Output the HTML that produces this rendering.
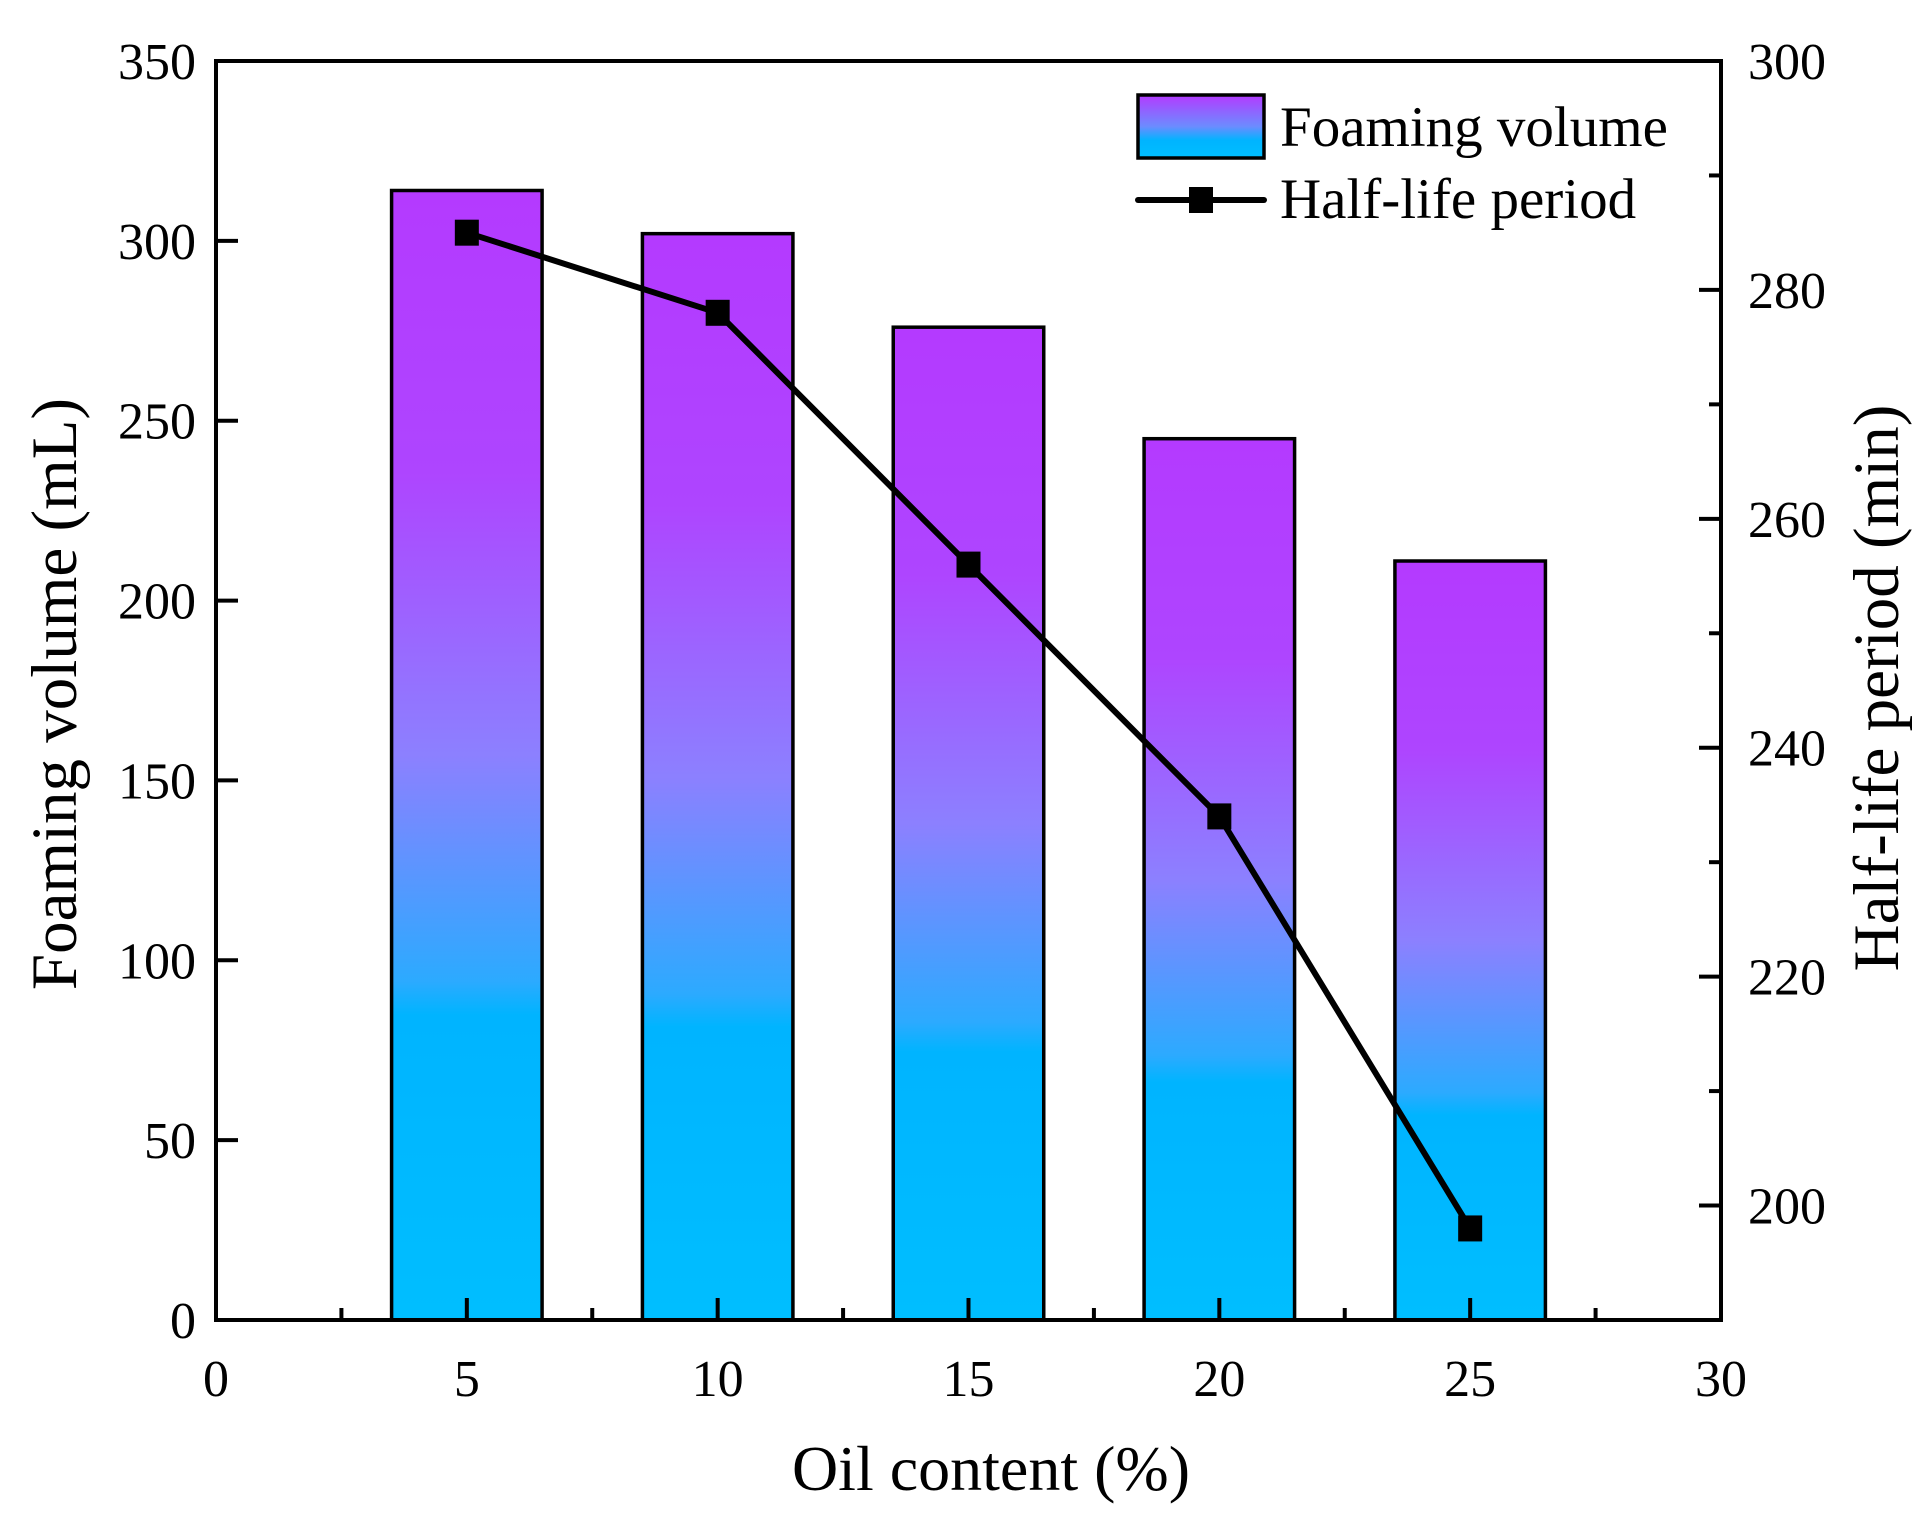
<!DOCTYPE html>
<html><head><meta charset="utf-8"><style>
html,body{margin:0;padding:0;background:#fff;}
svg{display:block;font-family:"Liberation Serif",serif;}
</style></head><body>
<svg id="chart" width="1932" height="1528" viewBox="0 0 1932 1528">
<defs>
<linearGradient id="barGrad" x1="0" y1="0" x2="0" y2="1">
<stop offset="0" stop-color="#B43AFF"/>
<stop offset="0.25" stop-color="#AE45FF"/>
<stop offset="0.5" stop-color="#8C80FF"/>
<stop offset="0.7" stop-color="#2CAAFF"/>
<stop offset="0.73" stop-color="#00B4FF"/>
<stop offset="1" stop-color="#00BEFF"/>
</linearGradient>
<linearGradient id="legGrad" x1="0" y1="0" x2="0" y2="1">
<stop offset="0" stop-color="#B43AFF"/>
<stop offset="0.5" stop-color="#6C8CFF"/>
<stop offset="0.72" stop-color="#00B4FF"/>
<stop offset="1" stop-color="#00BEFF"/>
</linearGradient>
</defs>
<g id="bars"></g>
<g id="line"></g>
<g id="axes"></g>
<g>
<rect x="1138" y="95" width="126" height="63" fill="url(#legGrad)" stroke="#000" stroke-width="3.5"/>
<text x="1280" y="146" font-size="57">Foaming volume</text>
<line x1="1138" y1="200" x2="1264" y2="200" stroke="#000" stroke-width="6" stroke-linecap="round"/>
<rect x="1189" y="187" width="24" height="26" fill="#000"/>
<text x="1280" y="218" font-size="57">Half-life period</text>
</g>
<text x="991" y="1490" font-size="64" text-anchor="middle">Oil content (%)</text>
<text transform="translate(76,694) rotate(-90)" font-size="65" text-anchor="middle">Foaming volume (mL)</text>
<text transform="translate(1898,688) rotate(-90)" font-size="65" text-anchor="middle">Half-life period (min)</text>
</svg>
<script>
const categories = [5, 10, 15, 20, 25];
const foamingVolume = [314, 302, 276, 245, 211];
const halfLife = [285, 278, 256, 234, 198];
const xTicks = [0, 5, 10, 15, 20, 25, 30];
const yLeftTicks = [0, 50, 100, 150, 200, 250, 300, 350];
const yRightTicks = [200, 220, 240, 260, 280, 300];

const L = 216, R = 1721, T = 61, B = 1320;
const NS = "http://www.w3.org/2000/svg";
const xS = v => L + (v - 0) / 30 * (R - L);
const yL = v => B - v / 350 * (B - T);
const yR = v => B - (v - 190) / 110 * (B - T);
function mk(tag, attrs, parent) {
  const e = document.createElementNS(NS, tag);
  for (const k in attrs) e.setAttribute(k, attrs[k]);
  parent.appendChild(e);
  return e;
}
const gBars = document.getElementById('bars');
categories.forEach((c, i) => {
  const x0 = xS(c - 1.5), x1 = xS(c + 1.5), y = yL(foamingVolume[i]);
  const r = mk('rect', {x: x0, y: y, width: x1 - x0, height: B - y, fill: 'url(#barGrad)', stroke: '#000', 'stroke-width': 3.5}, gBars);
  
  
});
const gLine = document.getElementById('line');
const pl = mk('polyline', {points: categories.map((c, i) => xS(c) + ',' + yR(halfLife[i])).join(' '), fill: 'none', stroke: '#000', 'stroke-width': 6, 'stroke-linejoin': 'round'}, gLine);


categories.forEach((c, i) => {
  const m = mk('rect', {x: xS(c) - 12, y: yR(halfLife[i]) - 13, width: 24, height: 26, fill: '#000'}, gLine);
  
  
});
const gA = document.getElementById('axes');
const frame = mk('rect', {x: L, y: T, width: R - L, height: B - T, fill: 'none', stroke: '#000', 'stroke-width': 4}, gA);


xTicks.forEach(v => {
  mk('line', {x1: xS(v), y1: B, x2: xS(v), y2: B - 22, stroke: '#000', 'stroke-width': 4}, gA);
  const t = mk('text', {x: xS(v), y: 1396, 'font-size': 52, 'text-anchor': 'middle'}, gA);
  t.textContent = v;
  
  
});
for (let v = 2.5; v < 30; v += 5) mk('line', {x1: xS(v), y1: B, x2: xS(v), y2: B - 12, stroke: '#000', 'stroke-width': 4}, gA);
yLeftTicks.forEach(v => {
  mk('line', {x1: L, y1: yL(v), x2: L + 22, y2: yL(v), stroke: '#000', 'stroke-width': 4}, gA);
  const t = mk('text', {x: 196, y: yL(v) + 18, 'font-size': 52, 'text-anchor': 'end'}, gA);
  t.textContent = v;
  
  
});
yRightTicks.forEach(v => {
  mk('line', {x1: R, y1: yR(v), x2: R - 22, y2: yR(v), stroke: '#000', 'stroke-width': 4}, gA);
  const t = mk('text', {x: 1748, y: yR(v) + 18, 'font-size': 52}, gA);
  t.textContent = v;
  
  
});
for (let v = 210; v < 300; v += 20) mk('line', {x1: R, y1: yR(v), x2: R - 12, y2: yR(v), stroke: '#000', 'stroke-width': 4}, gA);
</script>
</body></html>
